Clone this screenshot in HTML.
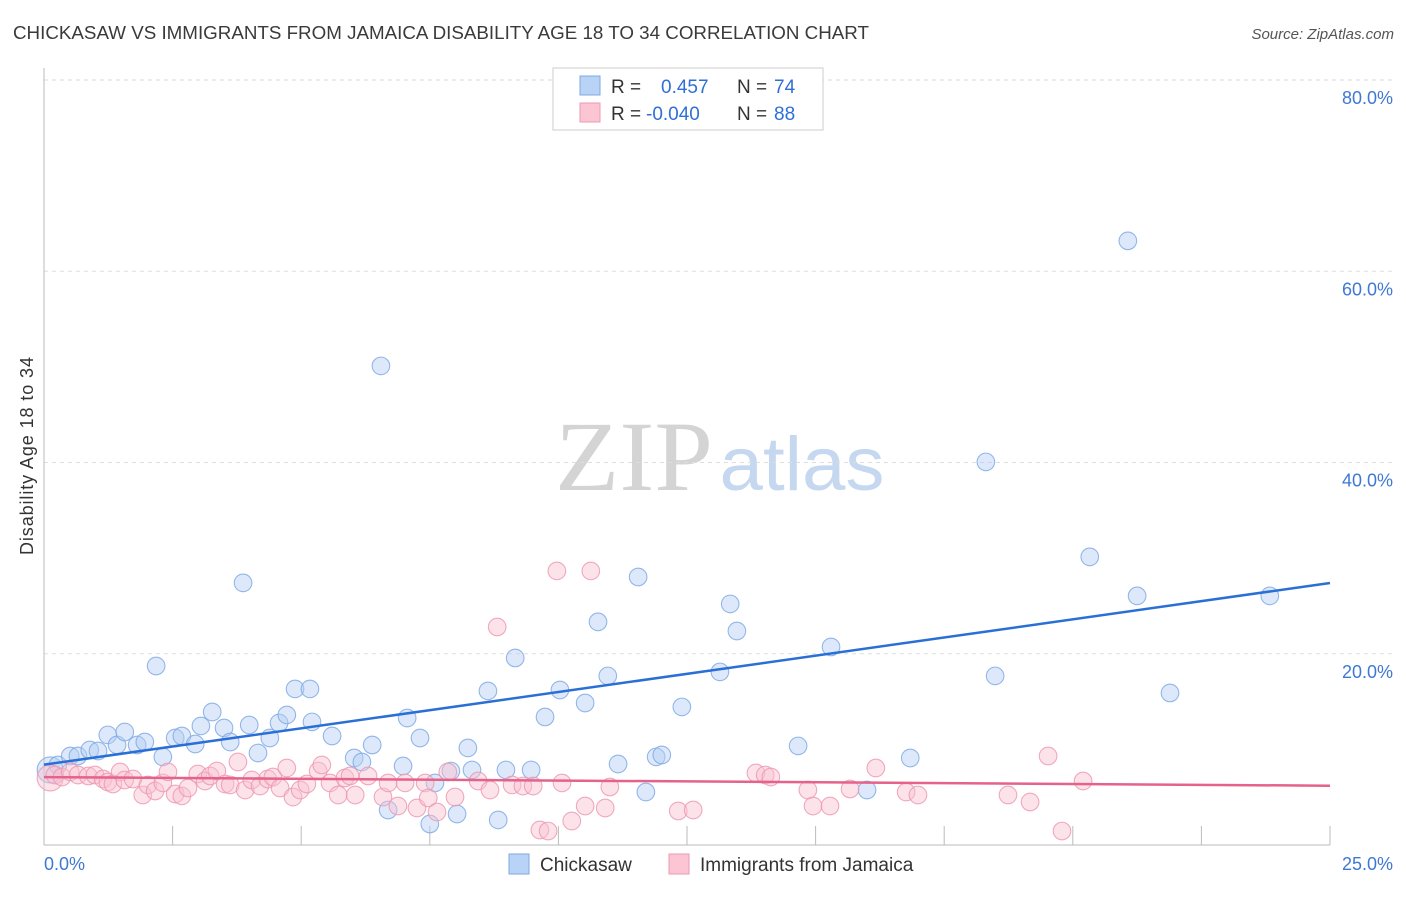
<!DOCTYPE html>
<html><head><meta charset="utf-8"><style>
body{margin:0;background:#fff;font-family:"Liberation Sans",sans-serif;}
</style></head><body>
<svg width="1406" height="892" xmlns="http://www.w3.org/2000/svg" id="chart" style="font-family:'Liberation Sans',sans-serif">
<text x="13" y="39" font-size="18" fill="#3a3a3a" textLength="856" lengthAdjust="spacingAndGlyphs">CHICKASAW VS IMMIGRANTS FROM JAMAICA DISABILITY AGE 18 TO 34 CORRELATION CHART</text>
<text x="1394" y="39" font-size="15" fill="#555" font-style="italic" text-anchor="end">Source: ZipAtlas.com</text>
<text transform="translate(33,456) rotate(-90)" font-size="18" fill="#333" text-anchor="middle" textLength="198">Disability Age 18 to 34</text>
<g>
<text x="634" y="490" font-size="100" font-family="'Liberation Serif',serif" fill="#d4d4d4" text-anchor="middle" textLength="158" lengthAdjust="spacingAndGlyphs">ZIP</text>
<text x="802" y="490" font-size="76" fill="#c5d8f0" text-anchor="middle" textLength="165" lengthAdjust="spacingAndGlyphs">atlas</text>
</g>
<g id="grid"></g>
<g id="axes"></g>
<g id="points"></g>
<g id="trends"></g>
<g>
<rect x="553" y="68" width="270" height="62" fill="#fff" stroke="#ccc"/>
<rect x="580" y="76" width="20" height="19" fill="#b8d3f5" stroke="#7ea8e3"/>
<rect x="580" y="103" width="20" height="19" fill="#fbc5d4" stroke="#ee9ab2"/>
<text y="93" font-size="19" fill="#333"><tspan x="611">R =</tspan><tspan x="661" fill="#2f6fd6">0.457</tspan><tspan x="737">N =</tspan><tspan x="774" fill="#2f6fd6">74</tspan></text>
<text y="120" font-size="19" fill="#333"><tspan x="611">R =</tspan><tspan x="646" fill="#2f6fd6">-0.040</tspan><tspan x="737">N =</tspan><tspan x="774" fill="#2f6fd6">88</tspan></text>
</g>
<g>
<rect x="509" y="854" width="20" height="20" fill="#b8d3f5" stroke="#7ea8e3"/>
<text x="540" y="871" font-size="19" fill="#333">Chickasaw</text>
<rect x="669" y="854" width="20" height="20" fill="#fbc5d4" stroke="#ee9ab2"/>
<text x="700" y="871" font-size="19" fill="#333">Immigrants from Jamaica</text>
</g>
</svg>
<script>
const yTicks=[20,40,60,80];
const yTickLabels=["20.0%","40.0%","60.0%","80.0%"];
const xTicks=[2.5,5,7.5,10,12.5,15,17.5,20,22.5,25];
const xMinLabel="0.0%", xMaxLabel="25.0%";
const blueX=[0.12,0.27,0.51,0.66,0.89,1.05,1.24,1.42,1.57,1.81,1.96,2.18,2.31,2.55,2.68,2.94,3.05,3.27,3.50,3.62,3.87,3.99,4.16,4.39,4.57,4.72,4.88,5.17,5.21,5.60,6.03,6.18,6.38,6.55,6.69,6.98,7.06,7.31,7.50,7.60,7.91,8.03,8.24,8.32,8.63,8.83,8.98,9.16,9.47,9.74,10.03,10.52,10.77,10.96,11.16,11.55,11.70,11.90,12.01,12.40,13.14,13.34,13.47,14.66,15.30,16.00,16.84,18.31,18.49,20.33,21.07,21.25,21.89,23.83];
const blueY=[7.85,8.37,9.31,9.31,9.94,9.83,11.51,10.46,11.82,10.46,10.77,18.72,9.21,11.19,11.40,10.56,12.45,13.91,12.24,10.77,27.41,12.55,9.62,11.19,12.76,13.60,16.32,16.32,12.87,11.40,9.10,8.68,10.46,50.10,3.66,8.26,13.28,11.19,2.20,6.49,7.74,3.24,10.15,7.85,16.11,2.62,7.85,19.56,7.85,13.39,16.21,14.85,23.33,17.68,8.47,28.03,5.54,9.21,9.41,14.44,18.10,25.21,22.38,10.36,20.71,5.75,9.10,40.06,17.68,30.13,63.18,26.05,15.90,26.05];
const pinkX=[0.12,0.21,0.35,0.51,0.66,0.86,0.99,1.15,1.24,1.34,1.48,1.57,1.73,1.92,2.02,2.16,2.31,2.41,2.55,2.68,2.80,2.99,3.13,3.23,3.36,3.52,3.62,3.77,3.91,4.04,4.20,4.35,4.45,4.59,4.72,4.84,4.98,5.11,5.33,5.40,5.56,5.72,5.85,5.95,6.05,6.30,6.59,6.69,6.88,7.02,7.25,7.41,7.47,7.64,7.85,7.99,8.44,8.67,8.81,9.10,9.31,9.51,9.64,9.80,9.97,10.07,10.26,10.52,10.63,10.91,11.00,12.33,12.62,13.84,14.02,14.13,14.85,14.95,15.28,15.67,16.17,16.76,16.99,18.74,19.17,19.52,19.79,20.20];
const pinkY=[7.01,7.32,7.11,7.64,7.32,7.22,7.32,6.90,6.59,6.38,7.64,6.80,6.90,5.23,6.28,5.65,6.49,7.64,5.33,5.13,5.96,7.43,6.69,7.22,7.74,6.38,6.28,8.68,5.75,6.80,6.17,6.90,7.11,5.96,8.05,5.02,5.75,6.38,7.74,8.37,6.49,5.23,7.01,7.22,5.23,7.22,5.02,6.49,4.08,6.49,3.87,6.49,4.92,3.45,7.64,5.02,6.69,5.75,22.80,6.28,6.17,6.17,1.57,1.46,28.66,6.49,2.51,4.08,28.66,3.87,6.07,3.56,3.66,7.53,7.32,7.11,5.75,4.08,4.08,5.86,8.05,5.54,5.23,5.23,4.50,9.31,1.46,6.69];
const blueTrend=[8.4,27.4];
const pinkTrend=[7.1,6.2];
const NS="http://www.w3.org/2000/svg";
const X0=44,X1=1330,Y0=845,Y80=80;
const xs=v=>X0+(X1-X0)*v/25;
const ys=v=>Y0-(Y0-Y80)*v/80;
function mk(t,a,p){const e=document.createElementNS(NS,t);for(const k in a)e.setAttribute(k,a[k]);p.appendChild(e);return e;}
const grid=document.getElementById('grid'),axes=document.getElementById('axes'),pts=document.getElementById('points'),tr=document.getElementById('trends');
yTicks.forEach((v,i)=>{
 const l=mk('line',{x1:X0,x2:1394,y1:ys(v),y2:ys(v),stroke:'#ddd','stroke-dasharray':'4,4'},grid);
 
 
 const t=mk('text',{x:1393,y:ys(v)+24,'font-size':18,fill:'#3f78d3','text-anchor':'end'},axes);
 t.textContent=yTickLabels[i];
 
 
});
const ya=mk('line',{x1:X0,x2:X0,y1:68,y2:Y0,stroke:'#bbb'},axes);


const xa=mk('line',{x1:X0,x2:X1,y1:Y0,y2:Y0,stroke:'#bbb'},axes);


xTicks.forEach(v=>{
 const l=mk('line',{x1:xs(v),x2:xs(v),y1:Y0,y2:Y0-19,stroke:'#bbb'},axes);
 
 
});
const xl=mk('text',{x:44,y:870,'font-size':18,fill:'#3f78d3'},axes);xl.textContent=xMinLabel;


const xr=mk('text',{x:1393,y:870,'font-size':18,fill:'#3f78d3','text-anchor':'end'},axes);xr.textContent=xMaxLabel;


function drawSeries(X,Y,fill,stroke,name){
 X.forEach((x,i)=>{
  const c=mk('circle',{cx:xs(x),cy:ys(Y[i]),r:i===0?13:8.8,fill:fill,'fill-opacity':0.45,stroke:stroke,'stroke-opacity':0.8,'stroke-width':1.1},pts);
  
  
 });
}
drawSeries(blueX,blueY,'#b4cff3','#7aa6e3','chickasaw-point');
drawSeries(pinkX,pinkY,'#f9c0d0','#ee95b0','jamaica-point');
const bt=mk('line',{x1:xs(0),y1:ys(blueTrend[0]),x2:xs(25),y2:ys(blueTrend[1]),stroke:'#2a6fd6','stroke-width':2.5},tr);


const pt=mk('line',{x1:xs(0),y1:ys(pinkTrend[0]),x2:xs(25),y2:ys(pinkTrend[1]),stroke:'#e5628a','stroke-width':2.5},tr);


</script>
</body></html>
